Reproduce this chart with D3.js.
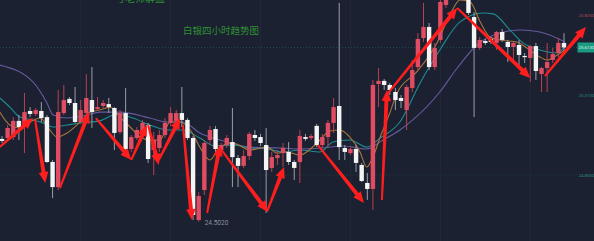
<!DOCTYPE html>
<html>
<head>
<meta charset="utf-8">
<script src="https://cdn.jsdelivr.net/npm/d3@7"></script>
<style>
  html, body { margin: 0; padding: 0; background: #1b2130; }
  svg { display: block; }
</style>
</head>
<body>
<div id="app"></div>
<script>
// 4h candles
const opens = [25.030, 25.036, 25.042, 25.145, 25.119, 25.208, 25.189, 25.208, 25.169, 24.883,
  24.723, 25.195, 25.285, 25.259, 25.138, 25.195, 25.278, 25.221, 25.240, 25.252,
  25.227, 25.074, 25.195, 24.966, 25.036, 25.055, 25.119, 24.959, 24.972, 25.055,
  25.132, 25.145, 25.195, 25.151, 25.036, 24.513, 24.704, 25.023, 25.093, 24.959,
  24.991, 25.010, 24.908, 24.858, 24.921, 25.055, 25.042, 24.991, 24.845, 24.908,
  24.940, 24.947, 24.883, 24.883, 25.042, 25.036, 25.113, 24.991, 25.042, 25.132,
  25.240, 24.972, 24.940, 24.966, 24.864, 24.749, 24.711, 25.380, 25.400, 25.374,
  25.329, 25.291, 25.214, 25.355, 25.488, 25.673, 25.744, 25.488, 25.661, 25.884,
  26.000, 26.100, 26.020, 25.948, 25.807, 25.610, 25.654, 25.667, 25.642, 25.712,
  25.648, 25.616, 25.629, 25.559, 25.546, 25.622, 25.444, 25.482, 25.533, 25.578,
  25.642];
const highs = [25.049, 25.119, 25.169, 25.182, 25.323, 25.233, 25.227, 25.265, 25.182, 24.896,
  25.342, 25.374, 25.297, 25.361, 25.278, 25.443, 25.488, 25.297, 25.278, 25.291,
  25.233, 25.214, 25.355, 25.055, 25.106, 25.151, 25.132, 25.074, 25.087, 25.163,
  25.233, 25.214, 25.361, 25.163, 25.049, 24.691, 25.023, 25.113, 25.113, 25.004,
  25.055, 25.227, 24.927, 24.959, 25.074, 25.087, 25.062, 25.100, 24.947, 24.959,
  25.004, 25.010, 24.896, 25.087, 25.062, 25.062, 25.126, 25.062, 25.151, 25.291,
  25.897, 24.991, 24.978, 24.991, 24.877, 24.813, 25.406, 25.482, 25.412, 25.387,
  25.355, 25.310, 25.374, 25.533, 25.704, 25.897, 25.769, 25.642, 25.916, 26.040,
  26.130, 26.140, 26.050, 25.970, 25.839, 25.680, 25.667, 25.680, 25.718, 25.731,
  25.661, 25.648, 25.661, 25.578, 25.629, 25.642, 25.488, 25.642, 25.610, 25.673,
  25.704];
const lows = [25.004, 25.017, 25.023, 25.023, 24.940, 25.169, 25.176, 25.138, 24.877, 24.653,
  24.704, 25.182, 25.246, 25.132, 25.126, 25.169, 25.100, 25.208, 25.227, 25.195,
  24.959, 25.062, 24.947, 24.947, 25.023, 25.042, 24.877, 24.800, 24.947, 25.036,
  25.113, 25.126, 25.106, 25.023, 24.513, 24.502, 24.672, 24.991, 24.947, 24.947,
  24.972, 24.723, 24.723, 24.845, 24.896, 25.017, 24.985, 24.558, 24.819, 24.864,
  24.851, 24.864, 24.768, 24.749, 25.017, 25.023, 24.978, 24.972, 24.978, 25.068,
  24.896, 24.896, 24.927, 24.819, 24.755, 24.641, 24.577, 25.233, 25.342, 25.310,
  25.214, 25.227, 25.087, 25.329, 25.469, 25.648, 25.469, 25.469, 25.642, 25.865,
  25.980, 25.990, 25.920, 25.820, 25.169, 25.597, 25.629, 25.635, 25.597, 25.648,
  25.520, 25.514, 25.501, 25.514, 25.393, 25.406, 25.329, 25.329, 25.514, 25.552,
  25.565];
const closes = [25.017, 25.100, 25.145, 25.106, 25.201, 25.189, 25.214, 25.163, 24.883, 24.723,
  25.201, 25.278, 25.259, 25.138, 25.214, 25.291, 25.201, 25.233, 25.259, 25.233,
  25.068, 25.195, 24.966, 25.042, 25.087, 25.132, 24.902, 25.023, 25.055, 25.132,
  25.195, 25.195, 25.151, 25.036, 24.545, 24.666, 25.004, 25.087, 24.966, 24.991,
  25.036, 24.914, 24.858, 24.921, 25.062, 25.036, 25.004, 24.832, 24.914, 24.927,
  24.972, 24.883, 24.845, 25.049, 25.030, 25.049, 24.991, 25.042, 25.132, 25.233,
  24.978, 24.947, 24.966, 24.877, 24.762, 24.711, 25.374, 25.400, 25.374, 25.342,
  25.278, 25.272, 25.361, 25.469, 25.667, 25.744, 25.488, 25.610, 25.903, 26.011,
  26.100, 26.020, 25.950, 25.833, 25.610, 25.661, 25.642, 25.648, 25.712, 25.661,
  25.616, 25.642, 25.565, 25.552, 25.622, 25.463, 25.482, 25.520, 25.571, 25.642,
  25.613];

// moving averages, [candle index, price]
const maFast = [[-0.4,25.201],[1.4,25.119],[3.2,25.100],[5.0,25.138],[6.8,25.163],[8.5,25.087],[9.8,25.042],
  [11.6,25.068],[13.9,25.138],[15.7,25.201],[17.4,25.214],[19.2,25.233],[21.0,25.169],[22.8,25.106],
  [24.6,25.042],[26.3,25.023],[28.1,25.023],[29.9,25.138],[31.7,25.138],[33.5,25.087],[35.2,24.978],
  [37.0,24.896],[38.8,24.978],[41.1,25.004],[44.1,24.959],[47.2,24.978],[48.9,24.940],[50.7,24.947],
  [53.0,24.927],[55.7,24.991],[58.4,25.081],[60.1,25.087],[61.9,25.042],[63.7,24.947],[64.9,24.851],
  [66.0,24.914],[67.3,25.042],[69.0,25.195],[70.3,25.323],[73.8,25.457],[77.4,25.642],[79.7,25.820],
  [81.5,25.916],[83.3,25.903],[85.1,25.776],[86.8,25.680],[88.6,25.661],[91.6,25.648],[93.4,25.610],
  [95.7,25.552],[97.0,25.533],[98.8,25.565],[100.2,25.597]];
const maMid = [[-0.4,25.291],[1.4,25.233],[3.2,25.169],[5.5,25.151],[7.3,25.132],[9.1,25.106],[11.6,25.119],
  [13.9,25.132],[17.4,25.145],[20.5,25.189],[23.3,25.163],[26.3,25.119],[29.4,25.087],[32.2,25.087],
  [35.2,25.036],[37.9,24.985],[41.1,24.991],[44.1,24.972],[47.2,24.966],[50.0,24.947],[53.0,24.959],
  [56.6,24.947],[58.9,25.010],[61.9,25.023],[64.9,24.978],[67.3,25.036],[70.8,25.138],[74.4,25.387],
  [77.9,25.597],[81.5,25.776],[85.6,25.833],[87.4,25.827],[90.4,25.724],[92.7,25.642],[95.7,25.597],
  [98.8,25.578],[100.2,25.622]];
const maSlow = [[-0.4,25.501],[5.5,25.393],[8.0,25.259],[9.1,25.182],[11.6,25.163],[15.1,25.182],[17.4,25.201],
  [21.0,25.201],[26.3,25.163],[29.4,25.138],[32.2,25.138],[35.2,25.068],[38.8,25.023],[44.1,24.978],
  [50.0,24.972],[53.0,24.966],[57.1,24.972],[60.7,24.985],[64.9,24.966],[67.8,25.023],[70.8,25.087],
  [73.1,25.151],[77.9,25.329],[81.0,25.482],[84.5,25.629],[88.6,25.705],[92.2,25.724],[95.7,25.712],
  [100.2,25.648]];

// hand drawn arrows, [from, to] as [candle index, price]
const arrows = [
  [[-0.4,24.978],[5.5,25.163]], [[5.9,25.151],[7.7,24.749]], [[10.3,24.717],[15.5,25.201]],
  [[16.7,25.163],[23.0,24.896]], [[23.0,24.896],[25.8,25.119]], [[26.0,25.119],[27.9,24.864]],
  [[27.9,24.896],[31.7,25.163]], [[32.2,25.119],[33.8,24.513]], [[36.5,24.558],[38.8,24.991]],
  [[38.8,24.972],[47.3,24.564]], [[47.2,24.570],[50.2,24.851]], [[56.2,24.991],[64.4,24.622]],
  [[67.6,24.641],[68.5,25.342]], [[68.3,25.304],[81.0,25.865]], [[81.0,25.865],[94.0,25.419]],
  [[96.6,25.431],[103.9,25.744]]
];

const priceTicks = [25.82, 25.31, 24.80];
const lastPrice = 25.613;
const gridIdx = [14, 30, 46, 62, 78, 94];

const width = 594, height = 241;
const x = d3.scaleLinear().domain([0, 100]).range([2, 564]);
const y = d3.scaleLinear().domain([24.80, 25.82]).range([175, 15]);

const svg = d3.select('#app').append('svg')
  .attr('width', width).attr('height', height);

svg.append('rect').attr('width', width).attr('height', height).attr('fill', '#1b2130');

// grid
svg.append('g').selectAll('line').data(gridIdx).enter().append('line')
  .attr('x1', d => x(d)).attr('x2', d => x(d))
  .attr('y1', 0).attr('y2', height)
  .attr('stroke', '#222938').attr('stroke-width', 1);
svg.append('line')
  .attr('x1', 0).attr('x2', 578)
  .attr('y1', y(24.80)).attr('y2', y(24.80))
  .attr('stroke', '#1f2d37').attr('stroke-width', 1);
svg.append('line')
  .attr('x1', 0).attr('x2', 578)
  .attr('y1', y(lastPrice)).attr('y2', y(lastPrice))
  .attr('stroke', '#1f6f66').attr('stroke-width', 1)
  .attr('stroke-dasharray', '1,2').attr('opacity', 0.55);

// moving averages
const line = d3.line().x(d => x(d[0])).y(d => y(d[1])).curve(d3.curveMonotoneX);
[[maSlow, '#665a9f'], [maMid, '#1f8c93'], [maFast, '#a8763c']].forEach(([data, col]) => {
  svg.append('path').datum(data)
    .attr('d', line).attr('fill', 'none')
    .attr('stroke', col).attr('stroke-width', 1.1);
});

// candles
const candles = opens.map((o, i) => ({ i, o, h: highs[i], l: lows[i], c: closes[i] }));
const up = d => d.c >= d.o;
const g = svg.append('g');
g.selectAll('line').data(candles).enter().append('line')
  .attr('x1', d => x(d.i)).attr('x2', d => x(d.i))
  .attr('y1', d => y(d.h)).attr('y2', d => y(d.l))
  .attr('stroke', d => up(d) ? '#b8404f' : '#9a9ea6')
  .attr('stroke-width', 1);
g.selectAll('rect').data(candles).enter().append('rect')
  .attr('x', d => x(d.i) - 2.2)
  .attr('width', 4.4)
  .attr('y', d => y(Math.max(d.o, d.c)))
  .attr('height', d => Math.max(1.2, Math.abs(y(d.o) - y(d.c))))
  .attr('fill', d => up(d) ? '#e04c62' : '#f4f4f4');

// arrows
function arrowPath(a) {
  const x0 = x(a[0][0]), y0 = y(a[0][1]), x1 = x(a[1][0]), y1 = y(a[1][1]);
  const dx = x1 - x0, dy = y1 - y0, len = Math.hypot(dx, dy);
  const ux = dx / len, uy = dy / len, nx = -uy, ny = ux;
  const hl = Math.min(11, len * 0.4), hw = 4.8;
  const bx = x1 - ux * hl, by = y1 - uy * hl;
  const w0 = 1.0, w1 = 2.0;
  const pts = [
    [x0 + nx * w0, y0 + ny * w0], [bx + nx * w1, by + ny * w1], [bx + nx * hw, by + ny * hw],
    [x1, y1],
    [bx - nx * hw, by - ny * hw], [bx - nx * w1, by - ny * w1], [x0 - nx * w0, y0 - ny * w0]
  ];
  return 'M' + pts.map(p => p.join(',')).join('L') + 'Z';
}
svg.append('g').selectAll('path').data(arrows).enter().append('path')
  .attr('d', arrowPath).attr('fill', '#ff1e1e');

// low marker
const lowIdx = d3.minIndex(lows);
svg.append('text')
  .attr('x', x(lowIdx) + 6).attr('y', y(lows[lowIdx]) + 3)
  .attr('fill', '#8c919b').attr('font-size', 6.5)
  .attr('font-family', 'Roboto, sans-serif')
  .text(lows[lowIdx].toFixed(4));

// right price labels
svg.append('g').selectAll('text').data(priceTicks).enter().append('text')
  .attr('x', 578.5).attr('y', d => y(d) + 2)
  .attr('fill', (d, i) => i === 0 ? '#b5495a' : '#2a8f80')
  .attr('font-size', 4.4).attr('font-family', 'Roboto, sans-serif')
  .text(d => d.toFixed(4));
svg.append('rect')
  .attr('x', 577.5).attr('y', y(lastPrice) - 5).attr('width', 17).attr('height', 10)
  .attr('fill', '#1b9a82');
svg.append('text')
  .attr('x', 578.5).attr('y', y(lastPrice) + 1.8)
  .attr('fill', '#dff5ee').attr('font-size', 4.4).attr('font-family', 'Roboto, sans-serif')
  .text(lastPrice.toFixed(4));

// titles
svg.append('text')
  .attr('x', 115).attr('y', 1.5)
  .attr('fill', '#2f8f34').attr('font-size', 10)
  .attr('font-family', '"Noto Sans CJK SC", sans-serif')
  .text('号老师解盘');
svg.append('text')
  .attr('x', 183).attr('y', 33.5)
  .attr('fill', '#2f8f34').attr('font-size', 9.5)
  .attr('font-family', '"Noto Sans CJK SC", sans-serif')
  .text('白银四小时趋势图');
</script>
</body>
</html>
